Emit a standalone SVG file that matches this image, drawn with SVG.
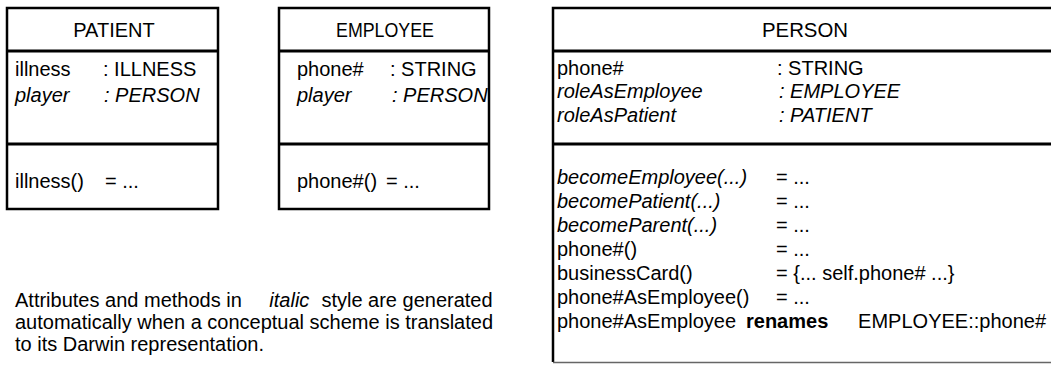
<svg xmlns="http://www.w3.org/2000/svg" width="1051" height="365" viewBox="0 0 1051 365">
  <style>
    text { font-family: "Liberation Sans", Arial, sans-serif; font-size: 20px; fill: #000; }
    .hd { text-anchor: middle; }
    .it { font-style: italic; }
    .b { font-weight: bold; }
    .end { text-anchor: end; }
    .box { fill: #fff; stroke: #000; stroke-width: 2.5; }
    .sep { stroke: #000; stroke-width: 3; }
  </style>
  <rect width="1051" height="365" fill="#fff"/>

  <!-- PATIENT class -->
  <g id="patient">
    <rect class="box" x="7" y="8" width="211" height="201"/>
    <line class="sep" x1="7" y1="51" x2="218" y2="51"/>
    <line class="sep" x1="7" y1="144" x2="218" y2="144"/>
    <text class="hd" x="114" y="37">PATIENT</text>
    <text x="15" y="76">illness</text>
    <text x="103" y="76">: ILLNESS</text>
    <text class="it" x="15" y="102">player</text>
    <text class="it" x="104" y="102">: PERSON</text>
    <text x="15" y="188">illness()</text>
    <text x="105" y="188">= ...</text>
  </g>

  <!-- EMPLOYEE class -->
  <g id="employee">
    <rect class="box" x="279" y="8" width="210" height="201"/>
    <line class="sep" x1="279" y1="51" x2="489" y2="51"/>
    <line class="sep" x1="279" y1="144" x2="489" y2="144"/>
    <text class="hd" x="385" y="37" textLength="98" lengthAdjust="spacingAndGlyphs">EMPLOYEE</text>
    <text x="297" y="76">phone#</text>
    <text x="390" y="76">: STRING</text>
    <text class="it" x="297" y="102">player</text>
    <text class="it" x="392" y="102">: PERSON</text>
    <text x="297" y="188">phone#()</text>
    <text x="386" y="188">= ...</text>
  </g>

  <!-- PERSON class (runs past the right edge) -->
  <g id="person">
    <path d="M1060 8 H553 V362" fill="none" stroke="#000" stroke-width="2.5"/>
    <line x1="553" y1="362.5" x2="1060" y2="362.5" stroke="#666" stroke-width="1.5"/>
    <line class="sep" x1="553" y1="51" x2="1060" y2="51"/>
    <line class="sep" x1="553" y1="144" x2="1060" y2="144"/>
    <text class="hd" x="805" y="37" textLength="86" lengthAdjust="spacingAndGlyphs">PERSON</text>
    <text x="557" y="75">phone#</text>
    <text x="777" y="75">: STRING</text>
    <text class="it" x="557" y="98">roleAsEmployee</text>
    <text class="it" x="779" y="98">: EMPLOYEE</text>
    <text class="it" x="557" y="122">roleAsPatient</text>
    <text class="it" x="779" y="122">: PATIENT</text>
    <text class="it" x="557" y="184">becomeEmployee(...)</text>
    <text x="776" y="184">= ...</text>
    <text class="it" x="557" y="208">becomePatient(...)</text>
    <text x="776" y="208">= ...</text>
    <text class="it" x="557" y="232">becomeParent(...)</text>
    <text x="776" y="232">= ...</text>
    <text x="557" y="256">phone#()</text>
    <text x="776" y="256">= ...</text>
    <text x="557" y="280">businessCard()</text>
    <text x="776" y="280">= {... self.phone# ...}</text>
    <text x="557" y="304">phone#AsEmployee()</text>
    <text x="776" y="304">= ...</text>
    <text x="557" y="328">phone#AsEmployee</text>
    <text class="b" x="746" y="328">renames</text>
    <text class="end" x="1046" y="328">EMPLOYEE::phone#</text>
  </g>

  <!-- explanatory note -->
  <g id="note">
    <text x="15" y="307">Attributes and methods in <tspan class="it" dx="22">italic</tspan><tspan dx="12">style are generated</tspan></text>
    <text x="15" y="329">automatically when a conceptual scheme is translated</text>
    <text x="15" y="351">to its Darwin representation.</text>
  </g>
</svg>
